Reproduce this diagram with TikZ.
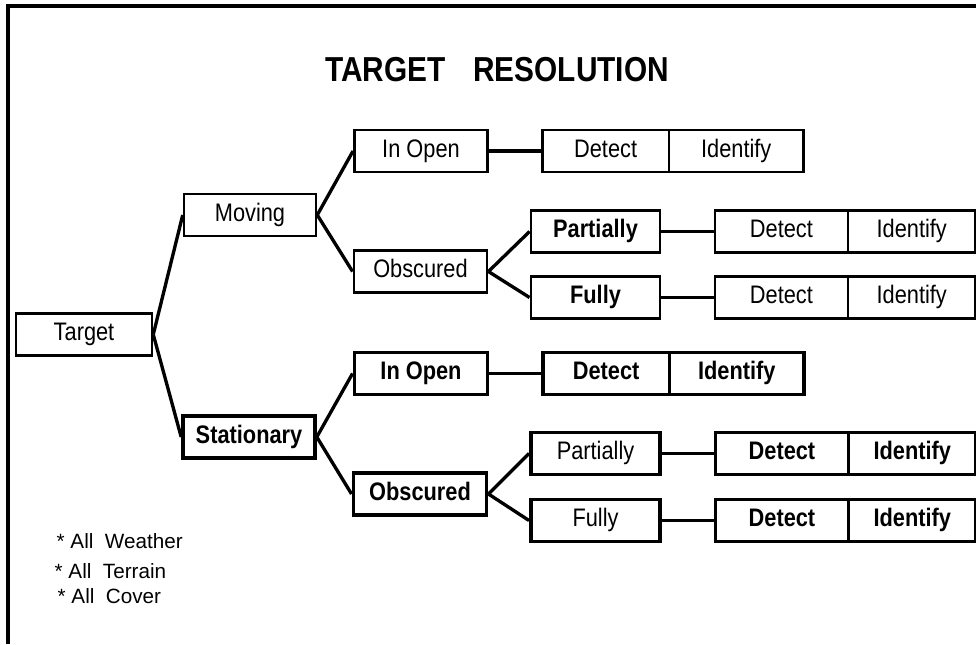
\documentclass[tikz,border=0pt]{standalone}
\usepackage{fontspec}
\setmainfont{Liberation Sans}
\newfontfamily\narrowsans{Liberation Sans}[FakeStretch=0.86]
\usetikzlibrary{positioning}

\begin{document}
\begin{tikzpicture}[x=0.75pt, y=-0.75pt, node distance=40pt, line/.style={line width=2.5pt}, block/.style={rectangle,draw,line width=1.9pt,minimum width=100pt,minimum height=31.5pt,inner sep=0pt,text height=13.5pt,text depth=4pt,font=\narrowsans\fontsize{19}{21}\selectfont}, heavy/.style={line width=2.7pt}, strong/.style={font=\narrowsans\fontsize{19}{21}\selectfont\bfseries}, cell/.style={block,outer sep=0pt}, note/.style={anchor=base west,font=\fontsize{15.5}{18}\selectfont}]
\useasboundingbox (0,0) rectangle (976,644);
\draw[line width=2.3pt] (8,644) -- (8,6) -- (976,6);
\node[font=\narrowsans\fontsize{26}{29}\selectfont\bfseries] (title) at (497,70) {TARGET\hspace{21pt}RESOLUTION};
\node[block,minimum width=102pt] (tgt) at (84,334.5) {Target};
\node[block,minimum width=99pt] (mov) at (250,215) {Moving};
\node[block,heavy,strong,minimum width=99pt] (sta) at (249,437) {Stationary};
\draw[line] (tgt.east) -- (mov.west);
\draw[line] (tgt.east) -- (sta.west);
\node[block] (mopen) at (421,151) {In Open};
\node[block] (mobs) at (420.5,271.5) {Obscured};
\draw[line] (mov.east) -- (mopen.west);
\draw[line] (mov.east) -- (mobs.west);
\node[block,heavy,strong] (sopen) at (421,373.5) {In Open};
\node[block,heavy,strong] (sobs) at (420,494) {Obscured};
\draw[line] (sta.east) -- (sopen.west);
\draw[line] (sta.east) -- (sobs.west);
\node[block,strong,minimum width=97pt] (mpart) at (595.5,231.5) {Partially};
\node[block,strong,minimum width=97pt] (mfull) at (595.5,297.5) {Fully};
\draw[line] (mobs.east) -- (mpart.west);
\draw[line] (mobs.east) -- (mfull.west);
\node[block,heavy,minimum width=97pt] (spart) at (595.5,453.5) {Partially};
\node[block,heavy,minimum width=97pt] (sfull) at (595.5,520.5) {Fully};
\draw[line] (sobs.east) -- (spart.west);
\draw[line] (sobs.east) -- (sfull.west);
\node[cell,minimum width=95pt,right=of mopen] (mopend) {Detect};
\node[cell,minimum width=101pt,right=0pt of mopend] (mopeni) {Identify};
\draw[line] (mopen) -- (mopend);
\node[cell,minimum width=100pt,right=of mpart] (mpartd) {Detect};
\node[cell,minimum width=95.5pt,right=0pt of mpartd] (mparti) {Identify};
\draw[line] (mpart) -- (mpartd);
\node[cell,minimum width=100pt,right=of mfull] (mfulld) {Detect};
\node[cell,minimum width=95.5pt,right=0pt of mfulld] (mfulli) {Identify};
\draw[line] (mfull) -- (mfulld);
\node[cell,heavy,strong,minimum width=95pt,right=of sopen] (sopend) {Detect};
\node[cell,heavy,strong,minimum width=101pt,right=0pt of sopend] (sopeni) {Identify};
\draw[line] (sopen) -- (sopend);
\node[cell,heavy,strong,minimum width=100pt,right=of spart] (spartd) {Detect};
\node[cell,heavy,strong,minimum width=95.5pt,right=0pt of spartd] (sparti) {Identify};
\draw[line] (spart) -- (spartd);
\node[cell,heavy,strong,minimum width=100pt,right=of sfull] (sfulld) {Detect};
\node[cell,heavy,strong,minimum width=95.5pt,right=0pt of sfulld] (sfulli) {Identify};
\draw[line] (sfull) -- (sfulld);
\node[note] (wthr) at (52,548) {*~All\ \ Weather};
\node[note] (terr) at (50,578) {*~All\ \ Terrain};
\node[note] (covr) at (53,603) {*~All\ \ Cover};
\end{tikzpicture}
\end{document}
